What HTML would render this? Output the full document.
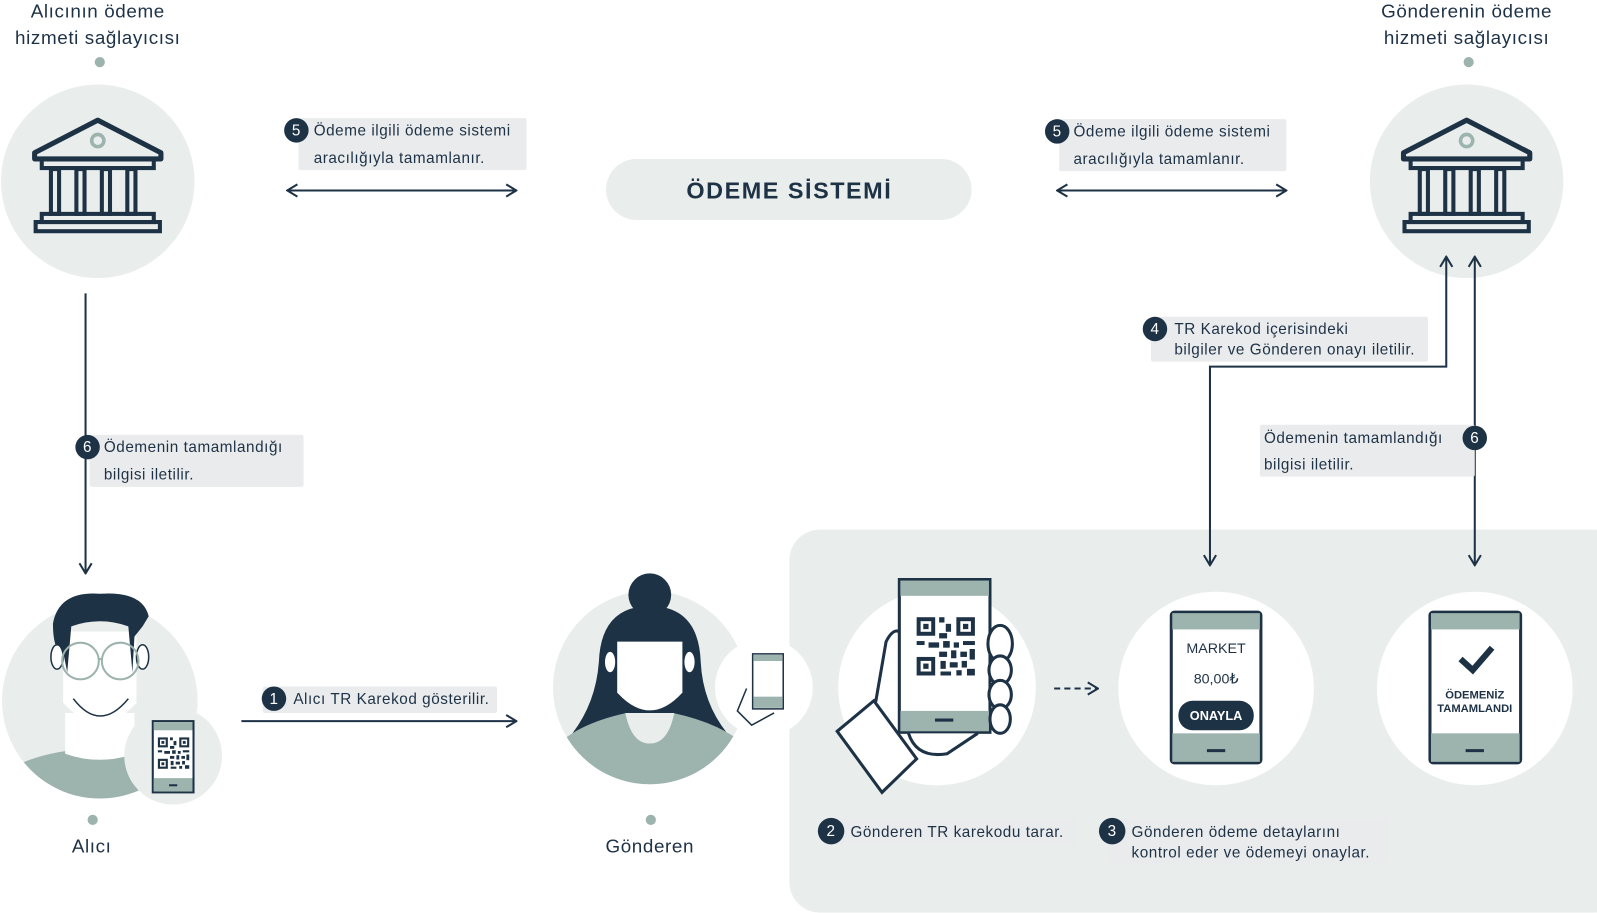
<!DOCTYPE html>
<html><head><meta charset="utf-8"><style>
html,body{margin:0;padding:0;background:#fff;}
svg{display:block;}
text{font-family:"Liberation Sans",sans-serif;fill:#1e3246;}
</style></head><body>
<svg width="1597" height="913" viewBox="0 0 1568 896.4" xmlns="http://www.w3.org/2000/svg">
<defs>
<marker id="ah" viewBox="0 0 12 14" refX="11" refY="7" markerWidth="12" markerHeight="14" markerUnits="userSpaceOnUse" orient="auto-start-reverse">
<path d="M1 1 L11 7 L1 13" fill="none" stroke="#1e3246" stroke-width="2"/>
</marker>
<clipPath id="c1"><circle cx="98" cy="688" r="96"/></clipPath>
<clipPath id="c2"><circle cx="638" cy="675" r="95"/></clipPath>
<g id="bank">
<path d="M-62 -30 L0 -62 L62 -30 L62 -24 L-62 -24 Z" fill="none" stroke="#1e3246" stroke-width="5" stroke-linejoin="round"/>
<circle cx="0" cy="-42" r="6" fill="none" stroke="#9db3ae" stroke-width="3.5"/>
<rect x="-55" y="-24" width="110" height="9" fill="none" stroke="#1e3246" stroke-width="4"/>
<g fill="none" stroke="#1e3246" stroke-width="4">
<rect x="-46" y="-14" width="8" height="44"/><rect x="-21" y="-14" width="8" height="44"/>
<rect x="4" y="-14" width="8" height="44"/><rect x="29" y="-14" width="8" height="44"/>
<rect x="-55" y="30" width="110" height="8"/><rect x="-61" y="38" width="122" height="9"/>
</g>
</g>
<g id="qr" fill="#1e3246">
<rect x="0" y="0" width="14" height="14"/><rect x="3" y="3" width="8" height="8" fill="#fff"/><rect x="5" y="5" width="4" height="4"/>
<rect x="30" y="0" width="14" height="14"/><rect x="33" y="3" width="8" height="8" fill="#fff"/><rect x="35" y="5" width="4" height="4"/>
<rect x="0" y="30" width="14" height="14"/><rect x="3" y="33" width="8" height="8" fill="#fff"/><rect x="5" y="35" width="4" height="4"/>
<rect x="17" y="0" width="4" height="4"/><rect x="22" y="5" width="4" height="6"/><rect x="17" y="12" width="6" height="4"/>
<rect x="0" y="18" width="6" height="3"/><rect x="9" y="19" width="8" height="4"/><rect x="20" y="18" width="5" height="5"/>
<rect x="28" y="19" width="4" height="4"/><rect x="35" y="18" width="9" height="3"/><rect x="17" y="26" width="6" height="4"/>
<rect x="26" y="25" width="4" height="6"/><rect x="33" y="26" width="5" height="4"/><rect x="40" y="24" width="4" height="8"/>
<rect x="18" y="33" width="4" height="6"/><rect x="25" y="34" width="6" height="4"/><rect x="34" y="33" width="4" height="5"/>
<rect x="18" y="41" width="8" height="3"/><rect x="30" y="40" width="4" height="4"/><rect x="38" y="39" width="6" height="5"/>
</g>
</defs>

<rect x="775" y="520" width="820" height="376" rx="30" fill="#e9eeed"/>

<g font-size="18.5" text-anchor="middle" letter-spacing="0.6">
<text x="96" y="17">Alıcının ödeme</text><text x="96" y="43">hizmeti sağlayıcısı</text>
<text x="1440" y="17">Gönderenin ödeme</text><text x="1440" y="43">hizmeti sağlayıcısı</text>
</g>
<circle cx="98" cy="61" r="5" fill="#9db3ae"/><circle cx="1442" cy="61" r="5" fill="#9db3ae"/>

<circle cx="96" cy="178" r="95" fill="#e9eeed"/>
<use href="#bank" x="96" y="180"/>
<circle cx="1440" cy="178" r="95" fill="#e9eeed"/>
<use href="#bank" x="1440" y="180"/>

<rect x="595" y="156" width="359" height="60" rx="30" fill="#e9eeed"/>
<text x="775" y="195" font-size="23" font-weight="bold" text-anchor="middle" letter-spacing="1.5">ÖDEME SİSTEMİ</text>

<g stroke="#1e3246" stroke-width="2" fill="none">
<line x1="282" y1="187" x2="507" y2="187" marker-start="url(#ah)" marker-end="url(#ah)"/>
<line x1="1038" y1="187" x2="1263" y2="187" marker-start="url(#ah)" marker-end="url(#ah)"/>
<line x1="84" y1="288" x2="84" y2="563" marker-end="url(#ah)"/>
<polyline points="1188,555 1188,360 1420,360 1420,252" marker-start="url(#ah)" marker-end="url(#ah)"/>
<line x1="1448" y1="555" x2="1448" y2="252" marker-start="url(#ah)" marker-end="url(#ah)"/>
<line x1="237" y1="708" x2="507" y2="708" marker-end="url(#ah)"/>
<line x1="1035" y1="676" x2="1078" y2="676" stroke-dasharray="6,4" marker-end="url(#ah)"/>
</g>

<g font-size="15" letter-spacing="0.55">
<rect x="293" y="116" width="224" height="51" rx="2" fill="#e9ebec"/>
<circle cx="291" cy="128" r="12" fill="#1e3246"/><text x="291" y="133" text-anchor="middle" style="fill:#fff">5</text>
<text x="308" y="133">Ödeme ilgili ödeme sistemi</text><text x="308" y="160">aracılığıyla tamamlanır.</text>

<rect x="1040" y="117" width="223" height="51" rx="2" fill="#e9ebec"/>
<circle cx="1038" cy="129" r="12" fill="#1e3246"/><text x="1038" y="134" text-anchor="middle" style="fill:#fff">5</text>
<text x="1054" y="134">Ödeme ilgili ödeme sistemi</text><text x="1054" y="161">aracılığıyla tamamlanır.</text>

<rect x="88" y="427" width="210" height="51" rx="2" fill="#e9ebec"/>
<circle cx="86" cy="439" r="12" fill="#1e3246"/><text x="86" y="444" text-anchor="middle" style="fill:#fff">6</text>
<text x="102" y="444">Ödemenin tamamlandığı</text><text x="102" y="471">bilgisi iletilir.</text>

<rect x="1130" y="311" width="272" height="44" rx="2" fill="#e9ebec"/>
<circle cx="1134" cy="323" r="12" fill="#1e3246"/><text x="1134" y="328" text-anchor="middle" style="fill:#fff">4</text>
<text x="1153" y="328">TR Karekod içerisindeki</text><text x="1153" y="348">bilgiler ve Gönderen onayı iletilir.</text>

<rect x="1237" y="417" width="211" height="51" rx="2" fill="#e9ebec"/>
<circle cx="1448" cy="430" r="12" fill="#1e3246"/><text x="1448" y="435" text-anchor="middle" style="fill:#fff">6</text>
<text x="1241" y="435">Ödemenin tamamlandığı</text><text x="1241" y="461">bilgisi iletilir.</text>

<rect x="258" y="674" width="230" height="26" rx="2" fill="#e9ebec"/>
<circle cx="269" cy="686" r="12" fill="#1e3246"/><text x="269" y="691" text-anchor="middle" style="fill:#fff">1</text>
<text x="288" y="691">Alıcı TR Karekod gösterilir.</text>

<rect x="812" y="803" width="243" height="27" rx="2" fill="#e9ebec"/>
<circle cx="816" cy="816" r="13" fill="#1e3246"/><text x="816" y="821" text-anchor="middle" style="fill:#fff">2</text>
<text x="835" y="822">Gönderen TR karekodu tarar.</text>

<rect x="1087" y="803" width="275" height="45" rx="2" fill="#e9ebec"/>
<circle cx="1092" cy="816" r="13" fill="#1e3246"/><text x="1092" y="821" text-anchor="middle" style="fill:#fff">3</text>
<text x="1111" y="822">Gönderen ödeme detaylarını</text><text x="1111" y="842">kontrol eder ve ödemeyi onaylar.</text>
</g>

<!-- Alıcı person -->
<circle cx="98" cy="688" r="96" fill="#e9eeed"/>
<g clip-path="url(#c1)">
<path d="M0 760 Q40 735 98 735 Q156 735 200 760 L200 800 L0 800Z" fill="#9db3ae"/>
<path d="M64 700 L64 740 Q98 752 132 740 L132 700Z" fill="#fff"/>
</g>
<path d="M62 620 L134 620 L134 690 Q98 730 62 690Z" fill="#fff"/>
<path d="M52 612 Q58 580 98 583 Q140 580 146 605 L140 615 L132 625 L130 660 L126 615 Q98 605 70 615 L66 660 L62 640 Q52 640 52 612Z" fill="#1e3246"/>
<ellipse cx="56" cy="645" rx="6" ry="12" fill="#fff" stroke="#1e3246" stroke-width="1.5"/>
<ellipse cx="140" cy="645" rx="6" ry="12" fill="#fff" stroke="#1e3246" stroke-width="1.5"/>
<g fill="none" stroke="#9db3ae" stroke-width="2"><circle cx="79" cy="649" r="18"/><circle cx="118" cy="649" r="18"/><line x1="97" y1="647" x2="100" y2="647"/></g>
<path d="M72 686 Q98 720 126 686" stroke="#1e3246" stroke-width="1.5" fill="none"/>
<circle cx="170" cy="742" r="48" fill="#e9eeed"/>
<rect x="150" y="708" width="40" height="70" fill="#fff" stroke="#1e3246" stroke-width="2"/>
<rect x="151" y="709" width="38" height="8" fill="#9db3ae"/><rect x="151" y="764" width="38" height="13" fill="#9db3ae"/>
<line x1="166" y1="771" x2="174" y2="771" stroke="#1e3246" stroke-width="2"/>
<use href="#qr" transform="translate(155,724) scale(0.7)"/>
<circle cx="91" cy="805" r="5" fill="#9db3ae"/>
<text x="90" y="837" font-size="18.5" text-anchor="middle" letter-spacing="0.6">Alıcı</text>

<!-- Gönderen person -->
<circle cx="638" cy="675" r="95" fill="#e9eeed"/>
<circle cx="638" cy="584" r="21" fill="#1e3246"/>
<path d="M638 595 Q590 595 588 650 Q585 690 562 720 L714 720 Q690 690 688 650 Q686 595 638 595Z" fill="#1e3246"/>
<g clip-path="url(#c2)">
<path d="M540 740 Q560 712 615 700 L661 700 Q716 712 740 740 L740 800 L540 800Z" fill="#9db3ae"/>
</g>
<path d="M614 700 Q620 730 638 730 Q656 730 662 700Z" fill="#e9eeed"/>
<path d="M606 630 L670 630 L670 680 Q638 715 606 680Z" fill="#fff"/>
<ellipse cx="599" cy="650" rx="5" ry="10" fill="#fff"/><ellipse cx="677" cy="650" rx="5" ry="10" fill="#fff"/>
<circle cx="750" cy="675" r="48" fill="#fff"/>
<rect x="739" y="642" width="30" height="54" fill="#fff" stroke="#1e3246" stroke-width="1.5"/>
<rect x="740" y="643" width="28" height="6" fill="#9db3ae"/><rect x="740" y="684" width="28" height="11" fill="#9db3ae"/>
<path d="M733 676 L724 698 L738 712 L760 700" fill="none" stroke="#1e3246" stroke-width="1.5"/>
<circle cx="639" cy="805" r="5" fill="#9db3ae"/>
<text x="638" y="837" font-size="18.5" text-anchor="middle" letter-spacing="0.6">Gönderen</text>

<ellipse cx="920" cy="675" rx="97" ry="96" fill="#fff"/>
<ellipse cx="1194" cy="676" rx="96" ry="95" fill="#fff"/>
<ellipse cx="1448" cy="676" rx="96" ry="95" fill="#fff"/>

<path d="M822 718 L860 688 L870 630 Q880 610 890 628 L892 690" fill="#fff" stroke="#1e3246" stroke-width="3"/>
<rect x="883" y="569" width="89" height="150" fill="#fff" stroke="#1e3246" stroke-width="3"/>
<rect x="884" y="570" width="87" height="15" fill="#9db3ae"/><rect x="884" y="698" width="87" height="20" fill="#9db3ae"/>
<line x1="918" y1="707" x2="936" y2="707" stroke="#1e3246" stroke-width="3"/>
<use href="#qr" transform="translate(900,606) scale(1.3)"/>
<g fill="#fff" stroke="#1e3246" stroke-width="3">
<ellipse cx="982" cy="632" rx="12" ry="18"/><ellipse cx="982" cy="658" rx="11" ry="14"/><ellipse cx="982" cy="682" rx="11" ry="14"/><ellipse cx="982" cy="706" rx="10" ry="14"/>
<path d="M892 720 Q900 745 930 740 L960 720"/>
<path d="M822 718 L866 778 L900 745 L858 688Z"/>
</g>

<rect x="1150" y="601" width="88" height="148" rx="3" fill="#fff" stroke="#1e3246" stroke-width="3"/>
<rect x="1151" y="602" width="86" height="16" fill="#9db3ae"/><rect x="1151" y="720" width="86" height="28" fill="#9db3ae"/>
<line x1="1185" y1="737" x2="1203" y2="737" stroke="#1e3246" stroke-width="3"/>
<text x="1194" y="641" font-size="14" text-anchor="middle">MARKET</text>
<text x="1194" y="671" font-size="14" text-anchor="middle">80,00₺</text>
<rect x="1157" y="688" width="74" height="29" rx="14" fill="#1e3246"/>
<text x="1194" y="707" font-size="12.5" font-weight="bold" text-anchor="middle" style="fill:#fff">ONAYLA</text>

<rect x="1404" y="601" width="89" height="148" rx="3" fill="#fff" stroke="#1e3246" stroke-width="3"/>
<rect x="1405" y="602" width="87" height="16" fill="#9db3ae"/><rect x="1405" y="720" width="87" height="28" fill="#9db3ae"/>
<line x1="1439" y1="737" x2="1457" y2="737" stroke="#1e3246" stroke-width="3"/>
<path d="M1434 647 L1446 658 L1465 636" fill="none" stroke="#1e3246" stroke-width="6"/>
<text x="1448" y="686" font-size="11" font-weight="bold" text-anchor="middle">ÖDEMENİZ</text>
<text x="1448" y="699" font-size="11" font-weight="bold" text-anchor="middle">TAMAMLANDI</text>
</svg>
</body></html>
